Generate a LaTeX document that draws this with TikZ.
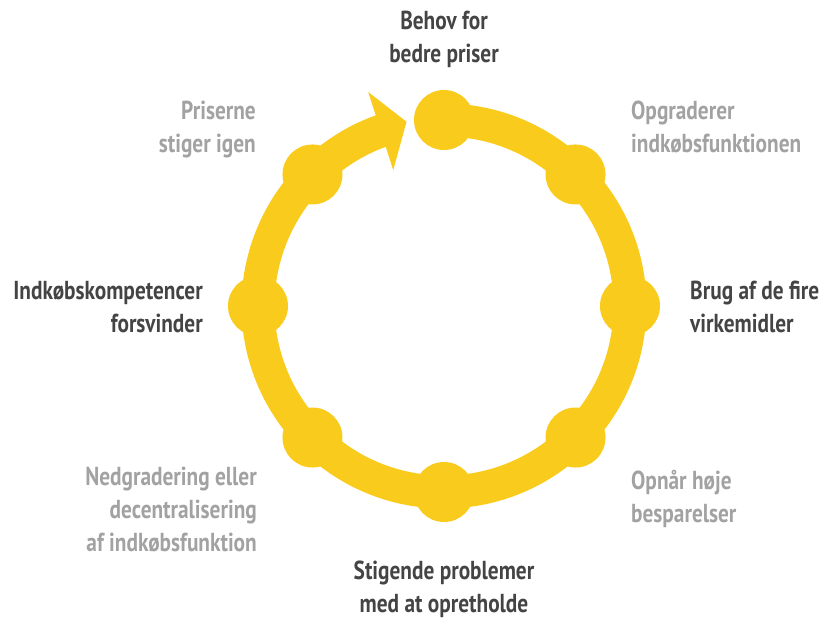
\documentclass[tikz,border=0pt]{standalone}
\usepackage{fontspec}
\setmainfont{PT Sans}[FakeStretch=0.82]
\usepackage{xcolor}
\usepackage{tikz}
\usetikzlibrary{arrows.meta,calc,positioning}

\definecolor{ringyellow}{HTML}{F9CB1C}
\definecolor{darktext}{HTML}{444444}
\definecolor{lighttext}{HTML}{A2A2A2}

\tikzset{
  ring/.style={draw=ringyellow, line width=33pt},
  ringdot/.style={circle, fill=ringyellow, minimum size=60pt, inner sep=0pt},
  cyclelabel/.style={font=\fontsize{26}{33}\selectfont\bfseries, inner sep=0pt},
  darklabel/.style={cyclelabel, text=darktext},
  lightlabel/.style={cyclelabel, text=lighttext}
}

\begin{document}
\begin{tikzpicture}[>=Latex, x=1pt, y=1pt]
  \useasboundingbox (0,0) rectangle (819,620);
  \coordinate (O) at (444,314);
  % the cycle
  \draw[ring] ([shift={(90:186)}]O) arc[start angle=90, end angle=-251, radius=186];
  \fill[ringyellow] ([shift={(109.5:227)}]O) -- ([shift={(101.5:188)}]O)
    -- ([shift={(110.5:145)}]O) -- cycle;
  \foreach \i/\a in {0/90, 1/45, 2/0, 3/-45, 4/-90, 5/-135, 6/180, 7/135}
    \node[ringdot] (dot\i) at ([shift={(\a:186)}]O) {};
  % labels (base = baseline of the last line)
  \node[darklabel, anchor=base, align=center] (behov) at (444,557) {Behov for\\bedre priser};
  \node[lightlabel, anchor=base west, align=left] (opgrad) at (631,467) {Opgraderer\\indkøbsfunktionen};
  \node[darklabel, anchor=base west, align=left] (brug) at (690,287) {Brug af de fire\\virkemidler};
  \node[lightlabel, anchor=base west, align=left] (opnaar) at (631,97) {Opnår høje\\besparelser};
  \node[darklabel, anchor=base, align=center] (stig) at (444,7) {Stigende problemer\\med at opretholde};
  \node[lightlabel, anchor=base east, align=right] (nedgr) at (257,68) {Nedgradering eller\hspace{6pt}\\decentralisering\\af indkøbsfunktion};
  \node[darklabel, anchor=base east, align=right] (kompet) at (203,287) {Indkøbskompetencer\hspace{5pt}\\forsvinder};
  \node[lightlabel, anchor=base east, align=right] (priser) at (256,467) {Priserne\hspace{4pt}\\stiger igen};
\end{tikzpicture}
\end{document}
